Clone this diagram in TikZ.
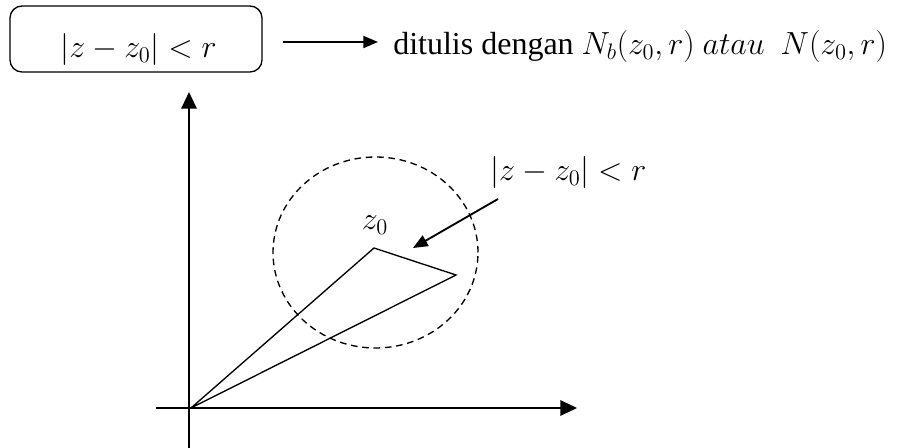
\RequirePackage{fix-cm}
\documentclass[tikz,border=0pt]{standalone}
\usepackage[no-math]{fontspec}
\setmainfont{Liberation Serif}
\usetikzlibrary{arrows.meta,shapes.geometric}
\tikzset{
  big/.style={font=\fontsize{24}{28}\selectfont, inner sep=0pt},
  roundbox/.style={draw, line width=1pt, rounded corners=9pt, minimum width=189pt, minimum height=49.5pt, inner sep=0pt},
  axis/.style={line width=1.6pt, -{Triangle[length=12.5pt,width=11.5pt]}},
  conn/.style={line width=1.4pt, -{Triangle[length=11pt,width=9pt]}},
  seg/.style={line width=1pt},
  dashcirc/.style={line width=1pt, dash pattern=on 5pt off 3.5pt}
}
\begin{document}
\begin{tikzpicture}[x=0.75pt,y=-0.75pt]
\useasboundingbox (0,0) rectangle (905,448);
% top box and text
\node[roundbox] (box) at (136,39) {};
\node[big, anchor=base] (boxtxt) at (138.5,58) {$|z-z_0|<r$};
\node[big, anchor=base west] (txt) at (393,55) {ditulis dengan $N_b(z_0,r)$ $atau$\enspace$N(z_0,r)$};
\coordinate (arrS) at (283,42);
\coordinate (arrE) at (378,42);
\draw[conn] (arrS) -- (arrE);
% axes
\coordinate (O) at (189,408);
\coordinate (ybot) at (189,448);
\coordinate (ytop) at (189,92);
\coordinate (xleft) at (156,408);
\coordinate (xright) at (577,408);
\draw[axis] (ybot) -- (ytop);
\draw[axis] (xleft) -- (xright);
% circle
\node[dashcirc, draw, ellipse, minimum width=153.75pt, minimum height=143.25pt, inner sep=0pt] (circ) at (375.5,252.5) {};
% triangle
\coordinate (P0) at (191,408);
\coordinate (Z) at (374,248);
\coordinate (Q) at (456,275);
\draw[seg] (P0) -- (Z) -- (Q) -- (P0);
\node[big, anchor=base] (zlab) at (375,230) {$z_0$};
% pointer
\node[big, anchor=base west] (rlab) at (490,181) {$|z-z_0|<r$};
\coordinate (pS) at (498,199);
\coordinate (pE) at (413,248);
\draw[conn] (pS) -- (pE);
\end{tikzpicture}
\end{document}
